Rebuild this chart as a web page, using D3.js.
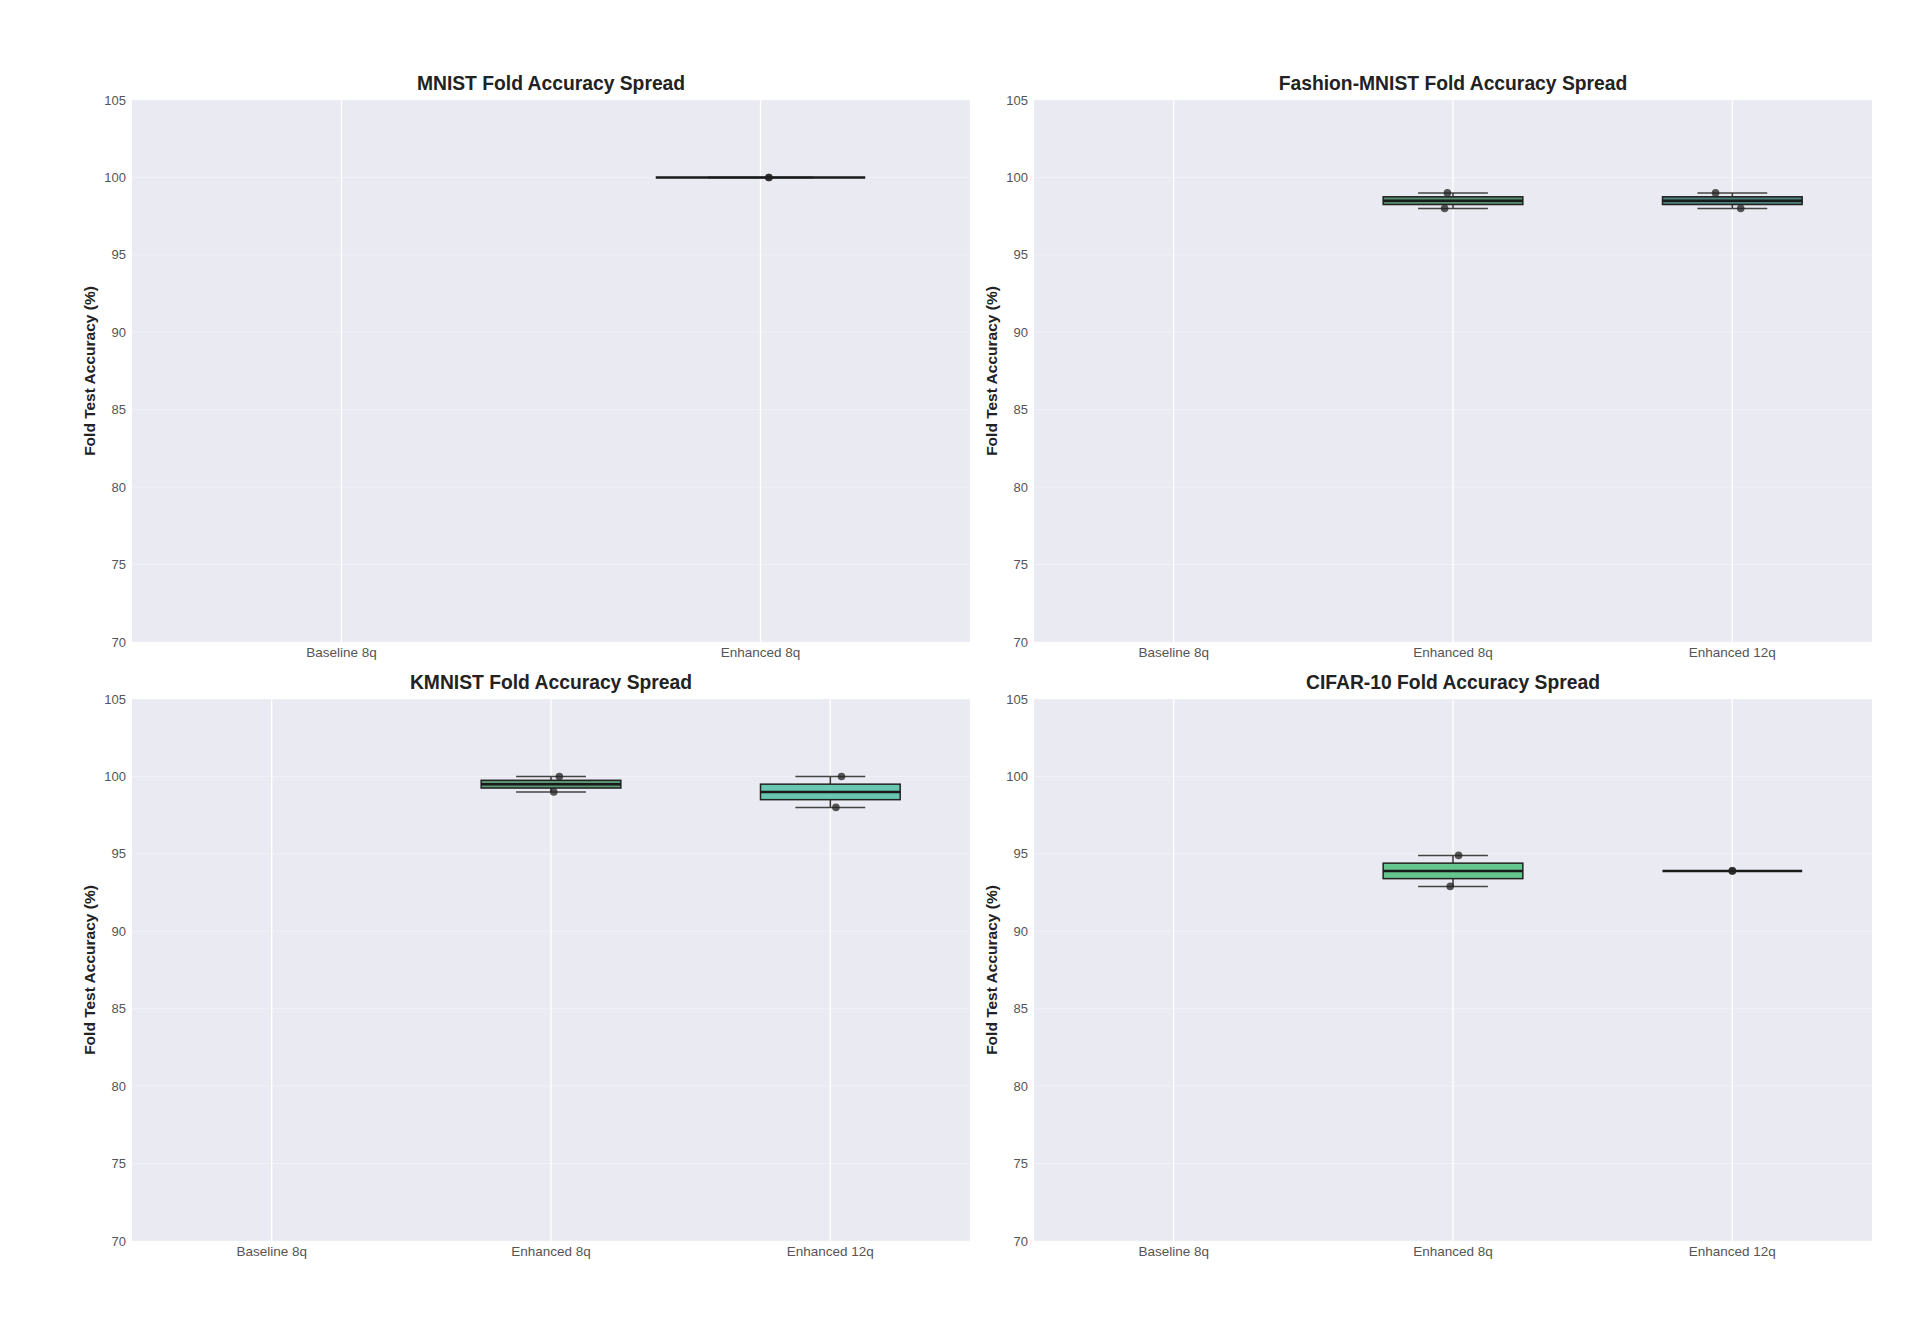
<!DOCTYPE html>
<html>
<head>
<meta charset="utf-8">
<script src="https://cdn.jsdelivr.net/npm/d3@7"></script>
<style>
  body { margin: 0; background: #fff; }
  text { font-family: "Liberation Sans", Arial, sans-serif; }
</style>
</head>
<body>
<div id="chart"></div>
<script>
// Panel titles and categories
let panelNames = ["MNIST", "Fashion-MNIST", "KMNIST", "CIFAR-10"]
let twoCats = ["Baseline 8q", "Enhanced 8q"]
let threeCats = ["Baseline 8q", "Enhanced 8q", "Enhanced 12q"]
let yTicks = [70, 75, 80, 85, 90, 95, 100, 105]

// Fold test accuracies (%) per category, Baseline has no folds
let mnistFolds = [[], [100, 100]]
let fashionFolds = [[], [99, 98], [99, 98]]
let kmnistFolds = [[], [100, 99], [100, 98]]
let cifarFolds = [[], [94.9, 92.9], [93.9, 93.9]]

// Box fill colours per category
let mnistColors = ["#3b7f58", "#3b7f58"]
let fashionColors = ["#3b7f58", "#3b7f58", "#2f6f66"]
let kmnistColors = ["#3b7f58", "#3f8a5f", "#52c0a6"]
let cifarColors = ["#3b7f58", "#4cbf7c", "#3a9a6e"]

// Strip jitter (fraction of band) per category
let mnistJitter = [[], [0.02, 0.02]]
let fashionJitter = [[], [-0.02, -0.03], [-0.06, 0.03]]
let kmnistJitter = [[], [0.03, 0.01], [0.04, 0.02]]
let cifarJitter = [[], [0.02, -0.01], [0.0, 0.0]]

let panels = [
  {name: panelNames[0], cats: twoCats, folds: mnistFolds, colors: mnistColors, jitter: mnistJitter},
  {name: panelNames[1], cats: threeCats, folds: fashionFolds, colors: fashionColors, jitter: fashionJitter},
  {name: panelNames[2], cats: threeCats, folds: kmnistFolds, colors: kmnistColors, jitter: kmnistJitter},
  {name: panelNames[3], cats: threeCats, folds: cifarFolds, colors: cifarColors, jitter: cifarJitter}
]

let W = 1924, H = 1324
let svg = d3.select("#chart").append("svg")
  .attr("width", W)
  .attr("height", H)

// Plot area positions
let cols = [132, 1034]
let rows = [100, 699]
let pw = 838, ph = 542

panels.forEach(function(p, i) {
  let x0 = cols[i % 2], y0 = rows[Math.floor(i / 2)]
  let g = svg.append("g").attr("transform", "translate(" + x0 + "," + y0 + ")")

  let x = d3.scaleBand().domain(p.cats).range([0, pw])
  let y = d3.scaleLinear().domain([70, 105]).range([ph, 0])
  let bw = x.bandwidth()

  g.append("rect")
    .attr("width", pw)
    .attr("height", ph)
    .attr("fill", "#eaeaf2")

  // grid
  g.selectAll(".hgrid").data(yTicks).enter().append("line")
    .attr("x1", 0).attr("x2", pw)
    .attr("y1", function(d) { return y(d) }).attr("y2", function(d) { return y(d) })
    .attr("stroke", "#fff").attr("stroke-opacity", 0.35).attr("stroke-width", 1)
  g.selectAll(".vgrid").data(p.cats).enter().append("line")
    .attr("x1", function(d) { return x(d) + bw / 2 })
    .attr("x2", function(d) { return x(d) + bw / 2 })
    .attr("y1", 0).attr("y2", ph)
    .attr("stroke", "#fff").attr("stroke-width", 1.3)

  // axes labels
  g.selectAll(".ytick").data(yTicks).enter().append("text")
    .attr("x", -6)
    .attr("y", function(d) { return y(d) })
    .attr("dy", "0.35em")
    .attr("text-anchor", "end")
    .attr("font-size", 13)
    .attr("fill", "#555")
    .text(function(d) { return d })
  g.selectAll(".xtick").data(p.cats).enter().append("text")
    .attr("x", function(d) { return x(d) + bw / 2 })
    .attr("y", ph + 15)
    .attr("text-anchor", "middle")
    .attr("font-size", 13.5)
    .attr("fill", "#555")
    .text(function(d) { return d })

  g.append("text")
    .attr("transform", "translate(-37," + (ph / 2) + ") rotate(-90)")
    .attr("text-anchor", "middle")
    .attr("font-size", 15.5)
    .attr("font-weight", "bold")
    .attr("fill", "#222")
    .text("Fold Test Accuracy (%)")

  g.append("text")
    .attr("x", pw / 2)
    .attr("y", -10)
    .attr("text-anchor", "middle")
    .attr("font-size", 19.3)
    .attr("font-weight", "bold")
    .attr("fill", "#222")
    .text(p.name + " Fold Accuracy Spread")

  // boxes
  p.cats.forEach(function(c, j) {
    let vals = p.folds[j].slice().sort(d3.ascending)
    if (vals.length === 0) return
    let cx = x(c) + bw / 2
    let q1 = d3.quantile(vals, 0.25), med = d3.quantile(vals, 0.5), q3 = d3.quantile(vals, 0.75)
    let iqr = q3 - q1
    let lo = d3.min(vals.filter(function(v) { return v >= q1 - 1.5 * iqr }))
    let hi = d3.max(vals.filter(function(v) { return v <= q3 + 1.5 * iqr }))
    let boxW = bw * 0.5, capW = bw * 0.25

    let bg = g.append("g")
    // whiskers
    bg.selectAll(".wh").data([[q3, hi], [q1, lo]]).enter().append("line")
      .attr("x1", cx).attr("x2", cx)
      .attr("y1", function(d) { return y(d[0]) }).attr("y2", function(d) { return y(d[1]) })
      .attr("stroke", "#333").attr("stroke-width", 1.5)
    bg.selectAll(".cap").data([hi, lo]).enter().append("line")
      .attr("x1", cx - capW / 2).attr("x2", cx + capW / 2)
      .attr("y1", function(d) { return y(d) }).attr("y2", function(d) { return y(d) })
      .attr("stroke", "#444").attr("stroke-width", 1.5)
    bg.append("rect")
      .attr("x", cx - boxW / 2)
      .attr("y", y(q3))
      .attr("width", boxW)
      .attr("height", Math.max(0, y(q1) - y(q3)))
      .attr("fill", p.colors[j])
      .attr("fill-opacity", 0.85)
      .attr("stroke", "#222").attr("stroke-width", 1.5)
    bg.append("line")
      .attr("x1", cx - boxW / 2).attr("x2", cx + boxW / 2)
      .attr("y1", y(med)).attr("y2", y(med))
      .attr("stroke", "#1a1a1a").attr("stroke-width", 2.5)

    // strip points
    bg.selectAll("circle").data(p.folds[j]).enter().append("circle")
      .attr("cx", function(d, k) { return cx + p.jitter[j][k] * bw })
      .attr("cy", function(d) { return y(d) })
      .attr("r", 3.8)
      .attr("fill", "#222")
      .attr("fill-opacity", 0.75)
  })
})
</script>
</body>
</html>
